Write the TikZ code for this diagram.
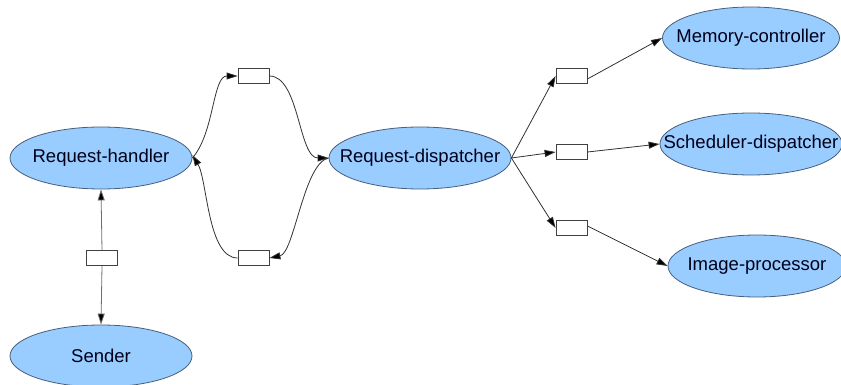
\documentclass[tikz,border=0pt]{standalone}
\usepackage{fontspec}
\setmainfont{Liberation Sans}
\usetikzlibrary{shapes.geometric,arrows.meta}
\definecolor{ellfill}{RGB}{153,204,255}
\definecolor{ellline}{RGB}{70,95,125}
\definecolor{wire}{RGB}{50,50,50}
\definecolor{wiregray}{RGB}{110,110,110}
\tikzset{
  ell/.style={ellipse, draw=ellline, fill=ellfill, line width=0.8pt, inner sep=0pt,
    minimum width=182pt, minimum height=62pt,
    font=\fontsize{18.5}{22}\selectfont, text=black!90!blue},
  port/.style={rectangle, draw=black!75, fill=white, line width=0.8pt, inner sep=0pt,
    minimum width=31pt, minimum height=15pt},
  wireline/.style={draw=wire, line width=0.8pt,
    -{Triangle[length=11pt,width=7pt,fill=black]}},
  graywire/.style={wireline, draw=wiregray}
}
\begin{document}
\begin{tikzpicture}[x=1pt,y=-1pt]
\useasboundingbox (0,0) rectangle (841,385);

% processes
\node[ell] (rh) at (101,158) {\makebox[0pt]{Request-handler}};
\node[ell] (se) at (101,356) {\makebox[0pt]{Sender}};
\node[ell] (rd) at (420,158) {\makebox[0pt]{Request-dispatcher}};
\node[ell, minimum width=177pt] (mc) at (751,38) {\makebox[0pt]{Memory-controller}};
\node[ell, minimum width=182pt] (sd) at (751,144) {\makebox[0pt]{Scheduler-dispatcher}};
\node[ell, minimum width=178pt] (ip) at (757,266) {\makebox[0pt]{Image-processor}};

% channels
\node[port] (p1) at (253.5,76) {};
\node[port] (p2) at (253.5,258) {};
\node[port] (p3) at (102,258) {};
\node[port] (p4) at (571.5,76) {};
\node[port] (p5) at (571.5,152) {};
\node[port] (p6) at (571.5,228) {};

% handler <-> dispatcher loop
\draw[wireline] (rh.east) .. controls +(22,-25) and +(-25,0) .. (p1.west);
\draw[wireline] (p1.east) .. controls +(30,0) and +(-30,0) .. (rd.west);
\draw[wireline] (rd.west) .. controls +(-25,5) and +(25,-5) .. (p2.east);
\draw[wireline] (p2.west) .. controls +(-30,0) and +(15,25) .. ([yshift=3pt]rh.east);

% handler <-> sender
\draw[graywire] (p3.north) -- (rh.south);
\draw[graywire] (p3.south) -- (se.north);

% dispatcher fan-out
\draw[wireline] (rd.east) -- (p4.west);
\draw[wireline] (rd.east) -- (p5.west);
\draw[wireline] (rd.east) -- (p6.west);
\draw[wireline] ([yshift=-3pt]p4.east) -- (mc.west);
\draw[wireline] (p5.east) -- (sd.west);
\draw[wireline] ([yshift=2pt]p6.east) -- (ip.west);
\end{tikzpicture}
\end{document}
